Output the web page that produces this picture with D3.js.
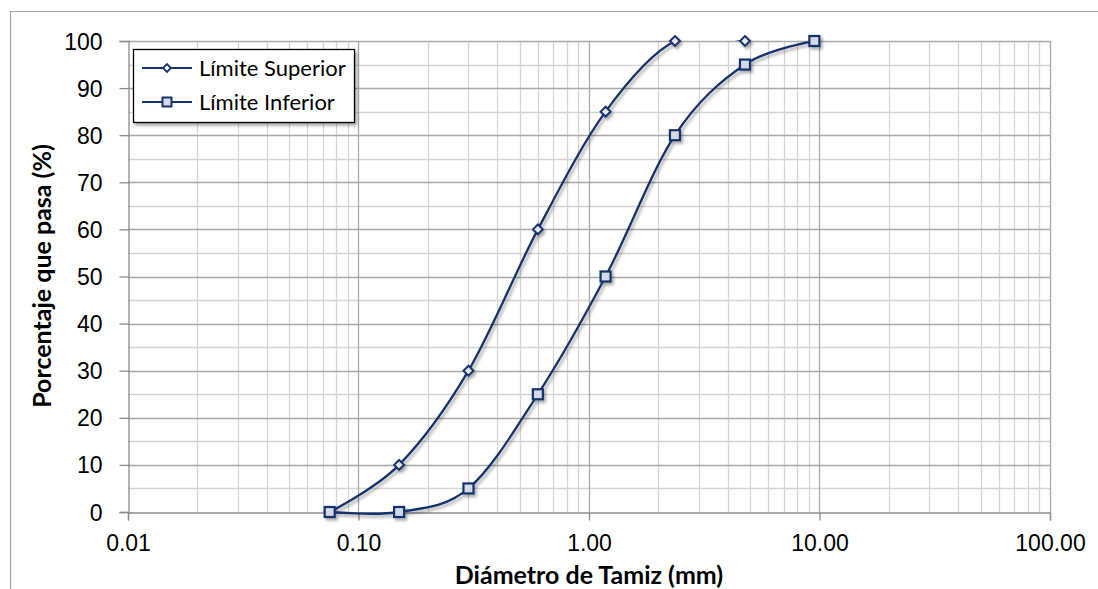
<!DOCTYPE html>
<html><head><meta charset="utf-8">
<script src="https://cdn.jsdelivr.net/npm/d3@7"></script>
<style>
body{margin:0;background:#fff;}
svg{display:block;font-family:Lato,"Open Sans",sans-serif;}
</style></head>
<body><svg id="c" width="1098" height="589"></svg>
<script>
const sieveSup = [0.075, 0.15, 0.3, 0.6, 1.18, 2.36, 4.75];
const valSup   = [0, 10, 30, 60, 85, 100, 100];
const sieveInf = [0.075, 0.15, 0.3, 0.6, 1.18, 2.36, 4.75, 9.5];
const valInf   = [0, 0, 5, 25, 50, 80, 95, 100];
const xTicks = [0.01, 0.1, 1, 10, 100];
const yTicks = [0, 10, 20, 30, 40, 50, 60, 70, 80, 90, 100];
const seriesNames = ["Límite Superior", "Límite Inferior"];
const xTitle = "Diámetro de Tamiz (mm)";
const yTitle = "Porcentaje que pasa (%)";

const svg = d3.select("#c");
const L = 128, R = 1050, T = 41, B = 512;
const x = d3.scaleLog().domain([0.01, 100]).range([L, R]);
const y = d3.scaleLinear().domain([0, 100]).range([B, T]);
const navy = "#17336b";

const defs = svg.append("defs");
const f = defs.append("filter").attr("id","sh").attr("x","-20%").attr("y","-20%").attr("width","150%").attr("height","150%");
f.append("feDropShadow").attr("dx",2).attr("dy",2.5).attr("stdDeviation",1.6).attr("flood-color","#000").attr("flood-opacity",0.35);
defs.append("clipPath").attr("id","clip").append("rect").attr("x",L).attr("y",T-1).attr("width",R-L).attr("height",B-T+5);

// outer border
svg.append("path").attr("d",`M10.5,589 V11.5 H1098`).attr("fill","none").attr("stroke","#a6a6a6").attr("stroke-width",1.2);

// minor grid
const minorX = [];
for (let e=-2;e<2;e++) for (let k=2;k<=9;k++) minorX.push(k*Math.pow(10,e));
const g = svg.append("g");
g.selectAll(".mx").data(minorX).join("line").attr("x1",d=>Math.round(x(d))+0.5).attr("x2",d=>Math.round(x(d))+0.5)
  .attr("y1",T).attr("y2",B).attr("stroke","#d4d4d4").attr("stroke-width",1.3);
g.selectAll(".my").data(d3.range(5,100,10)).join("line").attr("y1",d=>Math.round(y(d))+0.5).attr("y2",d=>Math.round(y(d))+0.5)
  .attr("x1",L).attr("x2",R).attr("stroke","#d4d4d4").attr("stroke-width",1.3);
// major grid
g.selectAll(".Mx").data(xTicks.slice(1)).join("line").attr("x1",d=>Math.round(x(d))+0.5).attr("x2",d=>Math.round(x(d))+0.5)
  .attr("y1",T).attr("y2",B).attr("stroke","#a9a9a9").attr("stroke-width",1.3);
g.selectAll(".My").data(yTicks.slice(1)).join("line").attr("y1",d=>Math.round(y(d))+0.5).attr("y2",d=>Math.round(y(d))+0.5)
  .attr("x1",L).attr("x2",R).attr("stroke","#a9a9a9").attr("stroke-width",1.3);

// axes
const yAx = svg.append("g").attr("transform",`translate(${L+0.5},0)`)
  .call(d3.axisLeft(y).tickValues(yTicks).tickSize(9).tickPadding(17).tickFormat(d3.format("d")));
const xAx = svg.append("g").attr("transform",`translate(0,${B+0.5})`)
  .call(d3.axisBottom(x).tickValues(xTicks).tickSize(8).tickPadding(14).tickFormat(d3.format(".2f")));
[yAx,xAx].forEach(a=>{
  a.select(".domain").attr("stroke","#8c8c8c").attr("stroke-width",1.3);
  a.selectAll(".tick line").attr("stroke","#8c8c8c").attr("stroke-width",1.3);
  a.selectAll("text").attr("fill","#000").style("font-size","23px");
});
xAx.selectAll("text").attr("dy","0.71em");
yAx.selectAll("text").attr("dy","0.35em");

// titles
svg.append("text").attr("x",589).attr("y",584).attr("text-anchor","middle").style("font-size","25px").style("font-weight","bold").text(xTitle);
svg.append("text").attr("transform","translate(51,276) rotate(-90)").attr("text-anchor","middle").style("font-size","25px").style("font-weight","bold").text(yTitle);

// series
const line = d3.line().x(d=>x(d[0])).y(d=>y(d[1])).curve(d3.curveCardinal.tension(0));
const supData = sieveSup.map((s,i)=>[s,valSup[i]]);
const infData = sieveInf.map((s,i)=>[s,valInf[i]]);
const sg = svg.append("g").attr("filter","url(#sh)");
sg.append("path").attr("clip-path","url(#clip)").datum(supData).attr("d",line).attr("fill","none").attr("stroke",navy).attr("stroke-width",2.3);
sg.append("path").attr("clip-path","url(#clip)").datum(infData).attr("d",line).attr("fill","none").attr("stroke",navy).attr("stroke-width",2.3);
const diamond = d3.symbol().type(d3.symbolDiamond2).size(62);
sg.selectAll(".ds").data(supData).join("path").attr("d",diamond)
  .attr("transform",d=>`translate(${x(d[0])},${y(d[1])})`)
  .attr("fill","#e3e8f0").attr("stroke",navy).attr("stroke-width",2);
sg.selectAll(".sq").data(infData).join("rect")
  .attr("x",d=>x(d[0])-5).attr("y",d=>y(d[1])-5).attr("width",10).attr("height",10)
  .attr("fill","#d3dae6").attr("stroke",navy).attr("stroke-width",2.2);

// legend
const lg = svg.append("g");
lg.append("rect").attr("x",133.5).attr("y",49.5).attr("width",221).attr("height",73)
  .attr("fill","#fff").attr("stroke","#000").attr("stroke-width",1.3).attr("filter","url(#sh)");
const items = [{name:seriesNames[0],type:"d",yy:68},{name:seriesNames[1],type:"s",yy:102}];
items.forEach(it=>{
  lg.append("line").attr("x1",142).attr("x2",192).attr("y1",it.yy).attr("y2",it.yy).attr("stroke",navy).attr("stroke-width",2);
  if(it.type==="d") lg.append("path").attr("d",d3.symbol().type(d3.symbolDiamond2).size(40)).attr("transform",`translate(167,${it.yy})`)
     .attr("fill","#fff").attr("stroke",navy).attr("stroke-width",1.8);
  else lg.append("rect").attr("x",162.5).attr("y",it.yy-4.5).attr("width",9).attr("height",9).attr("fill","#d3dae6").attr("stroke",navy).attr("stroke-width",2);
  lg.append("text").attr("x",199).attr("y",it.yy).attr("dy","0.35em").style("font-size","22px").text(it.name);
});
</script></body></html>
